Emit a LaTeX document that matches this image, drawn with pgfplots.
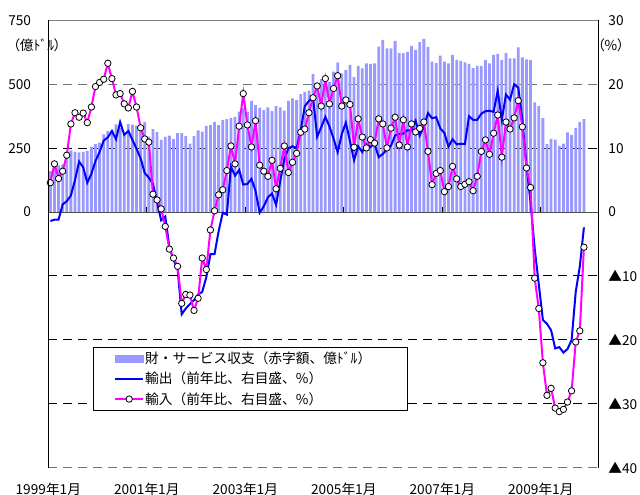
\documentclass[border=0pt]{standalone}
\usepackage{fontspec}
\setmainfont{Noto Sans CJK JP}
\newfontfamily\jpp{Noto Sans CJK JP}[RawFeature=+palt]
\usepackage{pgfplots}
\pgfplotsset{compat=1.18}
\usepackage{pgfplotstable}
\definecolor{barcol}{HTML}{9999FF}
\definecolor{expcol}{HTML}{0000FF}
\definecolor{impcol}{HTML}{FF00FF}
\pgfplotstableread{
m bal exp imp
0 160 -1.4 4.6
1 181 -1.2 7.55
2 183 -1.2 5.25
3 187 1.2 6.4
4 229 1.7 8.9
5 242 2.6 13.8
6 236 5.0 15.55
7 234 7.9 14.85
8 236 7.0 15.5
9 240 4.6 14.0
10 255 6.0 16.45
11 266 8.0 19.65
12 272 9.4 20.3
13 304 11.2 20.8
14 317 11.7 23.3
15 321 12.7 20.9
16 343 11.4 18.35
17 330 14.1 18.55
18 312 12.1 16.95
19 344 12.7 16.3
20 342 11.3 18.9
21 338 9.9 16.45
22 330 8.4 13.2
23 352 6.1 11.45
24 295 5.4 10.95
25 325 4.4 2.8
26 313 1.5 1.9
27 283 -1.3 0.5
28 294 -0.7 -2.25
29 299 -5.5 -5.8
30 286 -7.5 -7.2
31 309 -8.9 -8.5
32 309 -16.0 -14.3
33 297 -15.1 -12.9
34 268 -14.4 -13.0
35 297 -13.8 -15.4
36 320 -12.9 -13.5
37 315 -12.5 -7.2
38 337 -10.2 -9.0
39 340 -6.6 -2.8
40 352 -6.6 0.2
41 340 -3.0 2.7
42 361 -0.1 3.5
43 364 -0.4 6.5
44 369 7.1 10.35
45 373 5.7 7.55
46 393 6.6 13.45
47 408 4.3 18.55
48 391 4.4 13.65
49 435 5.2 10.2
50 419 3.3 14.3
51 408 -0.1 7.35
52 399 0.9 6.4
53 410 2.3 5.6
54 395 2.9 8.1
55 415 1.15 3.65
56 410 4.8 6.85
57 397 8.3 10.35
58 435 10.0 6.2
59 445 10.3 7.8
60 438 10.0 9.2
61 462 12.8 12.5
62 471 16.6 13.0
63 475 17.4 15.55
64 540 18.0 17.9
65 505 11.8 19.75
66 520 13.3 16.6
67 500 14.9 20.9
68 510 13.4 16.95
69 550 11.5 19.35
70 586 9.4 21.35
71 543 12.2 16.6
72 556 14.0 17.55
73 576 11.1 16.85
74 528 8.1 10.15
75 572 10.3 14.6
76 563 9.4 11.75
77 582 10.6 10.05
78 580 10.2 11.35
79 582 10.7 10.8
80 648 8.6 14.6
81 674 9.1 13.8
82 641 9.8 10.05
83 641 10.4 13.15
84 670 12.0 14.85
85 622 12.2 10.5
86 622 12.3 14.45
87 627 12.8 10.2
88 651 12.8 13.8
89 635 14.3 12.55
90 665 12.0 13.1
91 678 13.4 14.1
92 647 15.5 9.5
93 589 14.7 4.3
94 584 14.85 6.05
95 612 13.1 6.5
96 589 12.4 3.2
97 582 10.25 4.0
98 615 11.4 7.15
99 596 10.6 5.2
100 592 10.7 4.0
101 586 10.65 4.35
102 580 15.0 4.75
103 564 14.45 3.35
104 572 14.45 5.6
105 572 15.4 9.5
106 596 15.8 11.3
107 582 15.85 9.05
108 615 15.7 12.35
109 619 19.0 15.2
110 596 14.45 8.6
111 623 18.4 14.1
112 602 17.6 13.0
113 602 20.0 14.75
114 645 19.5 17.45
115 606 14.5 13.35
116 598 7.3 6.9
117 596 1.5 3.85
118 429 -5.7 -10.35
119 415 -11.3 -15.1
120 368 -16.9 -23.6
121 266 -17.5 -28.7
122 287 -18.5 -27.6
123 284 -21.35 -30.7
124 259 -21.15 -31.25
125 268 -22.0 -30.9
126 312 -21.45 -29.75
127 301 -20.05 -28.0
128 330 -12.5 -20.35
129 353 -8.5 -18.6
130 364 -2.4 -5.5
}\data
\begin{document}
\begin{tikzpicture}
\path[use as bounding box] (0,0) rectangle (640bp,495bp);
\begin{axis}[
  name=ax1,
  at={(48.3bp,27.5bp)}, anchor=south west,
  scale only axis, width=550.4bp, height=447bp,
  xmin=-0.5, xmax=133.6, ymin=-1000, ymax=750,
  clip mode=individual,
  axis line style={draw=none},
  xtick={-0.5,23.5,47.5,71.5,95.5,119.5},
  xticklabels={1999年1月,2001年1月,2003年1月,2005年1月,2007年1月,2009年1月},
  ytick={0,250,500,750}, yticklabels={0,250,500,750},
  major tick length=0pt, xtick style={draw=none}, ytick style={draw=none},
  ticklabel style={font=\fontsize{13.7bp}{16bp}\selectfont},
  xticklabel style={inner sep=0pt, anchor=north, yshift=-15.5bp},
  yticklabel style={inner sep=0pt, anchor=east, xshift=-17bp},
]
\draw[black, line width=1bp, dash pattern=on 9bp off 6bp] (axis cs:-0.5,250) -- (axis cs:133.6,250);
\draw[black!55, line width=1.2bp, dash pattern=on 9bp off 6bp] (axis cs:-0.5,500) -- (axis cs:133.6,500);
\draw[black, line width=1bp, dash pattern=on 9bp off 6bp] (axis cs:-0.5,-250) -- (axis cs:133.6,-250);
\draw[black, line width=1bp, dash pattern=on 9bp off 6bp] (axis cs:-0.5,-500) -- (axis cs:133.6,-500);
\draw[black, line width=1bp, dash pattern=on 9bp off 6bp] (axis cs:-0.5,-750) -- (axis cs:133.6,-750);
\addplot[ybar, bar width=2.8bp, fill=barcol, draw=none] table[x=m,y=bal]{\data};
\draw[black!70, line width=1.1bp] (axis cs:-0.5,0) -- (axis cs:133.6,0);
\draw[black, line width=0.8bp] (axis cs:23.5,0) -- (axis cs:23.5,20);
\draw[black, line width=0.8bp] (axis cs:47.5,0) -- (axis cs:47.5,20);
\draw[black, line width=0.8bp] (axis cs:71.5,0) -- (axis cs:71.5,20);
\draw[black, line width=0.8bp] (axis cs:95.5,0) -- (axis cs:95.5,20);
\draw[black, line width=0.8bp] (axis cs:119.5,0) -- (axis cs:119.5,20);
\end{axis}
\begin{axis}[
  name=ax2,
  at={(48.3bp,27.5bp)}, anchor=south west,
  scale only axis, width=550.4bp, height=447bp,
  xmin=-0.5, xmax=133.6, ymin=-40, ymax=30,
  clip mode=individual,
  axis line style={draw=none},
  xtick=\empty,
  ytick={-40,-30,-20,-10,0,10,20,30},
  yticklabels={▲40,▲30,▲20,▲10,0,10,20,30},
  yticklabel pos=right,
  major tick length=0pt, ytick style={draw=none},
  ticklabel style={font=\fontsize{13.7bp}{16bp}\selectfont},
  yticklabel style={inner sep=0pt, anchor=west, xshift=9.5bp},
  legend image code/.code={\draw[mark repeat=2,mark phase=2,#1] plot coordinates {(0bp,0bp) (14bp,0bp) (28bp,0bp)};},
  legend style={at={(0.0812,0.270)}, anchor=north west, draw=black, fill=white,
    inner xsep=21bp, inner ysep=4bp, row sep=5bp,
    font=\fontsize{13.7bp}{16bp}\selectfont,
    nodes={inner sep=1bp, anchor=west}},
  legend cell align=left,
]
\addlegendimage{legend image code/.code={\fill[barcol] (0bp,-3.5bp) rectangle (28bp,3.5bp);}}
\addlegendentry{財・サービス収支（赤字額、億ﾄﾞﾙ）\hspace*{14bp}}
\addplot[expcol, line width=2bp] table[x=m,y=exp]{\data};
\addlegendentry{輸出（前年比、右目盛、\%）}
\addplot[impcol, line width=2bp, mark=*, mark size=3.2bp, mark options={fill=white, draw=black, line width=0.8bp}] table[x=m,y=imp]{\data};
\addlegendentry{輸入（前年比、右目盛、\%）}
\draw[black!50, line width=1bp] (rel axis cs:0,1) -- (rel axis cs:1,1);
\draw[black!55, line width=1bp, dash pattern=on 9bp off 6bp] (rel axis cs:0,0) -- (rel axis cs:1,0);
\draw[black, line width=1.3bp] (rel axis cs:0,0) -- (rel axis cs:0,1);
\draw[black, line width=1.3bp] (rel axis cs:1,0) -- (rel axis cs:1,1);
\end{axis}
\node[font=\fontsize{13.7bp}{16bp}\jpp] at (37bp,450bp) {（億ﾄﾞﾙ）};
\node[font=\fontsize{13.7bp}{16bp}\jpp] at (611bp,450bp) {（\%）};
\end{tikzpicture}
\end{document}
